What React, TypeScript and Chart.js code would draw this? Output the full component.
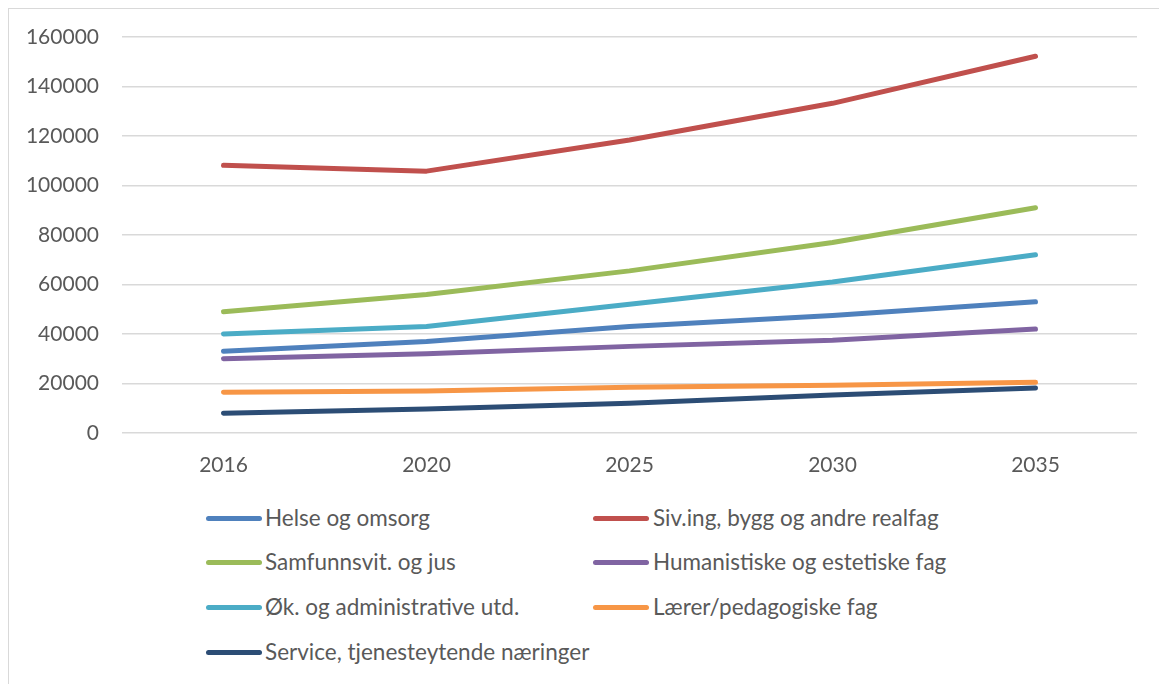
import React, { useEffect, useRef } from "react";
import { Chart, registerables } from "chart.js";

Chart.register(...registerables);

const years = ["2016", "2020", "2025", "2030", "2035"];
const seriesNames = [
  "Helse og omsorg",
  "Siv.ing, bygg og andre realfag",
  "Samfunnsvit. og jus",
  "Humanistiske og estetiske fag",
  "Øk. og administrative utd.",
  "Lærer/pedagogiske fag",
  "Service, tjenesteytende næringer",
];
const helse = [33000, 37000, 43000, 47500, 53000];
const siving = [108200, 105800, 118400, 133200, 152200];
const samfunn = [49000, 56000, 65500, 77000, 91000];
const humanistiske = [30000, 32000, 35000, 37500, 42000];
const okonomi = [40000, 43000, 52000, 61000, 72000];
const laerer = [16500, 17000, 18500, 19300, 20500];
const service = [8000, 9700, 12000, 15400, 18200];
const seriesValues = [helse, siving, samfunn, humanistiske, okonomi, laerer, service];
const seriesColors = ["#4F81BD", "#C0504D", "#9BBB59", "#8064A2", "#4BACC6", "#F79646", "#2C4D75"];
const yTicks = [0, 20000, 40000, 60000, 80000, 100000, 120000, 140000, 160000];

const FONT = "Lato, 'Open Sans', sans-serif";
const TEXT = "#595959";

export default function App() {
  const ref = useRef<HTMLCanvasElement | null>(null);

  useEffect(() => {
    document.body.style.overflow = "hidden";
    const canvas = ref.current;
    if (!canvas) return;
    const chart = new Chart(canvas, {
      type: "line",
      data: {
        labels: years,
        datasets: seriesNames.map((name, i) => ({
          label: name,
          data: seriesValues[i],
          borderColor: seriesColors[i],
          backgroundColor: seriesColors[i],
          borderWidth: 5,
          borderCapStyle: "round" as const,
          borderJoinStyle: "round" as const,
          pointRadius: 0,
          pointHoverRadius: 0,
          tension: 0,
          fill: false,
          order: seriesNames.length - i,
        })),
      },
      options: {
        animation: false,
        responsive: false,
        devicePixelRatio: 1,
        layout: { padding: { left: 0, right: 28, top: 28, bottom: 0 } },
        plugins: { legend: { display: false }, tooltip: { enabled: false } },
        scales: {
          x: {
            type: "category",
            offset: true,
            grid: { display: false, drawTicks: false },
            border: { display: false },
            ticks: { color: TEXT, font: { family: FONT, size: 21 }, padding: 20 },
            afterFit: (scale: any) => {
              scale.height = 46;
            },
          },
          y: {
            min: 0,
            max: 160000,
            afterBuildTicks: (scale: any) => {
              scale.ticks = yTicks.map((v) => ({ value: v }));
            },
            grid: { color: "#d9d9d9", lineWidth: 1.5, drawTicks: false },
            border: { display: false },
            ticks: {
              color: TEXT,
              font: { family: FONT, size: 21 },
              padding: 23,
              callback: (v: any) => String(v),
            },
            afterFit: (scale: any) => {
              scale.width = 113;
              scale.paddingTop = 0;
              scale.paddingBottom = 0;
            },
          },
        },
      },
    });
    return () => chart.destroy();
  }, []);

  const rowCenters = [509, 553, 598, 643];
  const colLine = [197, 584];
  const colText = [256, 644];

  return (
    <div
      style={{
        position: "relative",
        width: 1156,
        height: 690,
        border: "1px solid #d9d9d9",
        background: "#fff",
        fontFamily: FONT,
      }}
    >
      <canvas ref={ref} width={1156} height={470} style={{ position: "absolute", left: 0, top: 0, width: 1156, height: 470 }} />
      {seriesNames.map((name, i) => {
        const row = Math.floor(i / 2);
        const col = i % 2;
        const cy = rowCenters[row];
        return (
          <div key={name}>
            <div
              style={{
                position: "absolute",
                left: colLine[col],
                top: cy - 2.5,
                width: 56,
                height: 5,
                borderRadius: 3,
                background: seriesColors[i],
              }}
            />
            <div
              style={{
                position: "absolute",
                left: colText[col],
                top: cy - 14,
                height: 28,
                lineHeight: "28px",
                fontSize: 22.5,
                color: TEXT,
                whiteSpace: "nowrap",
              }}
            >
              {name}
            </div>
          </div>
        );
      })}
    </div>
  );
}
